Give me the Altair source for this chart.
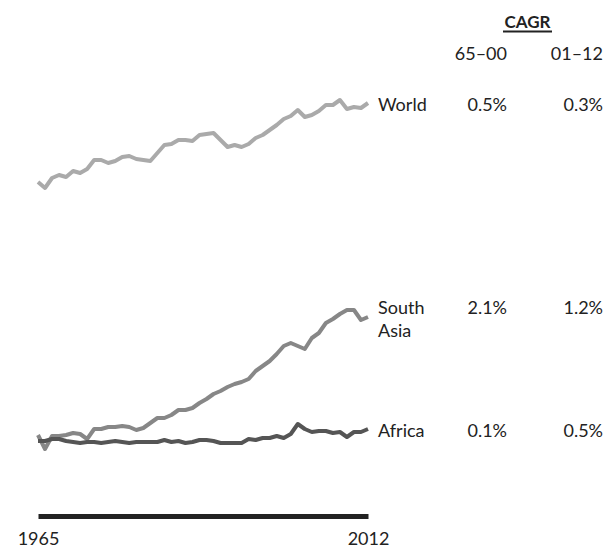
import altair as alt
import pandas as pd

FONT = "Lato"
INK = "#222222"

years = list(range(1965, 2013))
world = [334, 328, 338, 341, 339, 345, 343, 347, 356, 356,
         353, 355, 359, 360, 357, 356, 355, 363, 371, 372,
         376, 376, 375, 381, 382, 383, 376, 369, 371, 369,
         372, 378, 381, 386, 391, 397, 400, 406, 399, 401,
         405, 411, 411, 416, 407, 409, 408, 413]
south_asia = [81, 67, 80, 80, 81, 83, 82, 77, 87, 87,
              89, 89, 90, 89, 86, 88, 93, 98, 98, 101,
              106, 106, 108, 113, 117, 122, 125, 129, 132, 134,
              137, 145, 150, 155, 162, 170, 173, 170, 167, 178,
              183, 193, 197, 202, 206, 206, 196, 199]
africa = [75, 75, 77, 77, 75, 74, 73, 74, 74, 73,
          74, 75, 74, 73, 74, 74, 74, 74, 76, 74,
          75, 73, 74, 76, 76, 75, 73, 73, 73, 73,
          77, 76, 78, 78, 80, 78, 82, 92, 87, 84,
          85, 85, 83, 84, 79, 84, 84, 87]

series_names = ["World", "South Asia", "Africa"]
series_labels = ["World", "South\nAsia", "Africa"]
cagr_65_00 = ["0.5%", "2.1%", "0.1%"]
cagr_01_12 = ["0.3%", "1.2%", "0.5%"]
period_headers = ["65–00", "01–12"]
cagr_title = "CAGR"
axis_years = [1965, 2012]
line_colors = ["#aaaaaa", "#878787", "#555555"]

rows = []
for name, vals in zip(series_names, [world, south_asia, africa]):
    for yr, v in zip(years, vals):
        rows.append({"series": name, "year": yr, "value": v})
df = pd.DataFrame(rows)

labels = pd.DataFrame({
    "series": series_names,
    "label": series_labels,
    "nlines": [lab.count("\n") + 1 for lab in series_labels],
    "year": [years[-1]] * 3,
    "value": [world[-1], south_asia[-1], africa[-1]],
    "c1": cagr_65_00,
    "c2": cagr_01_12,
})

x_scale = alt.Scale(domain=[years[0], years[-1]], nice=False, zero=False)
y_scale = alt.Scale(domain=[0, 508], nice=False, zero=False)

lines = alt.Chart(df).mark_line(strokeWidth=4, strokeJoin="round").encode(
    x=alt.X("year:Q", scale=x_scale,
            axis=alt.Axis(values=axis_years, format="d", title=None, grid=False,
                          ticks=False, tickSize=0, domainWidth=5, domainColor=INK,
                          labelFontSize=18, labelFont=FONT, labelColor=INK,
                          labelPadding=14, labelFlush=False, labelOverlap=False)),
    y=alt.Y("value:Q", scale=y_scale, axis=None),
    color=alt.Color("series:N", scale=alt.Scale(domain=series_names, range=line_colors),
                    legend=None),
)

LINE_H = 23


def text_layers(nlines):
    dy = 3 - (nlines - 1) * LINE_H / 2
    common = dict(baseline="middle", dy=dy, fontSize=18, font=FONT, color=INK,
                  lineBreak="\n", lineHeight=LINE_H)
    base = alt.Chart(labels).transform_filter(alt.datum.nlines == nlines)
    enc = dict(x=alt.X("year:Q", scale=x_scale), y=alt.Y("value:Q", scale=y_scale))
    return [
        base.mark_text(align="left", dx=10, **common).encode(text="label:N", **enc),
        base.mark_text(align="right", dx=139, **common).encode(text="c1:N", **enc),
        base.mark_text(align="right", dx=235, **common).encode(text="c2:N", **enc),
    ]


hdr = pd.DataFrame({"h1": [period_headers[0]], "h2": [period_headers[1]], "t": [cagr_title]})
h1 = alt.Chart(hdr).mark_text(align="right", baseline="alphabetic", dx=139, fontSize=18,
                              font=FONT, color=INK).encode(
    x=alt.datum(years[-1]), y=alt.value(52), text="h1:N")
h2 = alt.Chart(hdr).mark_text(align="right", baseline="alphabetic", dx=235, fontSize=18,
                              font=FONT, color=INK).encode(
    x=alt.datum(years[-1]), y=alt.value(52), text="h2:N")
title_t = alt.Chart(hdr).mark_text(align="center", baseline="alphabetic", dx=159.5,
                                   fontSize=17, fontWeight="bold", font=FONT,
                                   color=INK).encode(
    x=alt.datum(years[-1]), y=alt.value(20.3), text="t:N")
underline = alt.Chart(hdr).mark_rule(strokeWidth=2, color=INK).encode(
    x=alt.value(465), x2=alt.value(514), y=alt.value(23.5))

layers = [lines] + text_layers(1) + text_layers(2) + [h1, h2, title_t, underline]

chart = alt.layer(*layers).properties(
    width=330, height=508,
    padding={"left": 30, "top": 0, "right": 238, "bottom": 32},
    autosize=alt.AutoSizeParams(type="none"),
).configure_view(stroke=None)

chart.save("out.html", embed_options={"renderer": "svg", "actions": False})
